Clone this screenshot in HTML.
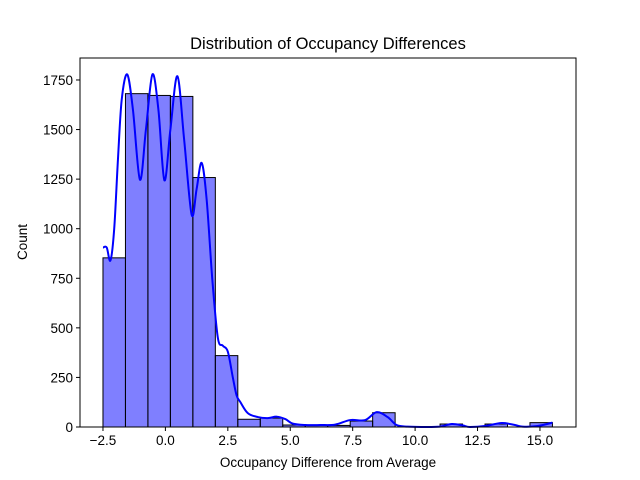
<!DOCTYPE html>
<html><head><meta charset="utf-8"><style>
body{margin:0;background:#fff;}
svg{display:block;font-family:"Liberation Sans","DejaVu Sans",sans-serif;}
</style></head><body>
<svg id="chart" width="640" height="480">
<rect width="640" height="480" fill="#fff"/>
<text x="328" y="49" text-anchor="middle" font-size="16.5">Distribution of Occupancy Differences</text>
<text x="328" y="467" text-anchor="middle" font-size="13.5">Occupancy Difference from Average</text>
<text x="27" y="242" text-anchor="middle" font-size="13.5" transform="rotate(-90 27 242)">Count</text>
<g id="bars"></g><g id="kde"></g><g id="axes"></g>
</svg>
<script>
const binStart = -2.5;
const binWidth = 0.9;
const counts = [853, 1681, 1672, 1667, 1258, 360, 39, 45, 10, 8, 8, 30, 72, 0, 0, 15, 0, 15, 0, 22];
const kdeX = [-2.5,-2.35,-2.2,-2.05,-1.9,-1.75,-1.53,-1.3,-1.02,-0.78,-0.52,-0.28,-0.04,0.2,0.48,0.75,1.05,1.25,1.45,1.65,1.88,2.1,2.3,2.5,2.7,2.85,3.0,3.3,3.7,4.1,4.46,4.8,5.1,5.6,6.2,6.8,7.4,8.0,8.46,8.9,9.26,9.7,10.5,11.0,11.47,11.9,12.2,12.8,13.47,14.0,14.3,14.9,15.5];
const kdeY = [905,905,840,1000,1350,1650,1778,1600,1247,1500,1778,1600,1244,1500,1769,1450,1071,1200,1332,1150,742,450,410,380,250,160,126,70,50,45,52,40,17,10,10,12,35,35,75,50,10,2,0,2,15,8,0,5,20,10,2,5,22];
const xTicks = [-2.5,0,2.5,5,7.5,10,12.5,15];
const xTickLabels = ["−2.5","0.0","2.5","5.0","7.5","10.0","12.5","15.0"];
const yTicks = [0,250,500,750,1000,1250,1500,1750];
const yTickLabels = ["0","250","500","750","1000","1250","1500","1750"];

const L=80,R=576,T=58,B=427;
const xs=v=>165.4+v*24.97;
const ys=v=>B-v*0.1983;
const NS="http://www.w3.org/2000/svg";
function mk(tag,attrs,parent){const e=document.createElementNS(NS,tag);for(const k in attrs)e.setAttribute(k,attrs[k]);parent.appendChild(e);return e;}
const bars=document.getElementById('bars');
counts.forEach((c,i)=>{
  if(c<=0)return;
  const x0=xs(binStart+i*binWidth),x1=xs(binStart+(i+1)*binWidth);
  const r=mk('rect',{x:x0,y:ys(c),width:x1-x0,height:B-ys(c),fill:'rgba(0,0,255,0.5)',stroke:'#000','stroke-width':1},bars);
  
  
});
// kde smooth path (Catmull-Rom)
const pts=kdeX.map((x,i)=>[xs(x),ys(kdeY[i])]);
let d=`M${pts[0][0]},${pts[0][1]}`;
for(let i=0;i<pts.length-1;i++){
  const p0=pts[Math.max(0,i-1)],p1=pts[i],p2=pts[i+1],p3=pts[Math.min(pts.length-1,i+2)];
  const c1=[p1[0]+(p2[0]-p0[0])/6,p1[1]+(p2[1]-p0[1])/6];
  const c2=[p2[0]-(p3[0]-p1[0])/6,p2[1]-(p3[1]-p1[1])/6];
  d+=`C${c1[0]},${Math.min(B,c1[1])} ${c2[0]},${Math.min(B,c2[1])} ${p2[0]},${p2[1]}`;
}
const kp=mk('path',{d:d,fill:'none',stroke:'#0000ff','stroke-width':2},document.getElementById('kde'));


const ax=document.getElementById('axes');
const frame=mk('rect',{x:L,y:T,width:R-L,height:B-T,fill:'none',stroke:'#000','stroke-width':1},ax);


xTicks.forEach((v,i)=>{
  const x=xs(v);
  mk('line',{x1:x,x2:x,y1:B,y2:B+4,stroke:'#000'},ax);
  const t=mk('text',{x:x,y:B+18,'text-anchor':'middle','font-size':13.5},ax);
  t.textContent=xTickLabels[i];
  
  
});
yTicks.forEach((v,i)=>{
  const y=ys(v);
  mk('line',{x1:L-4,x2:L,y1:y,y2:y,stroke:'#000'},ax);
  const t=mk('text',{x:L-7,y:y+5,'text-anchor':'end','font-size':13.5},ax);
  t.textContent=yTickLabels[i];
  
  
});
</script>
</body></html>
